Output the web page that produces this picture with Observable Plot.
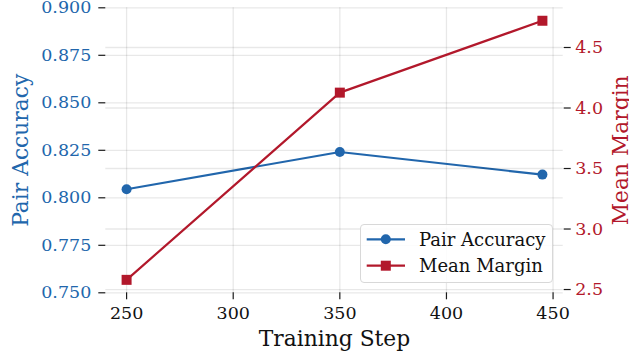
<!DOCTYPE html>
<html>
<head>
<meta charset="utf-8">
<script src="https://cdn.jsdelivr.net/npm/d3@7"></script>
<script src="https://cdn.jsdelivr.net/npm/@observablehq/plot@0.6"></script>
<style>
  body { margin: 0; background: #fff; }
  #chart { position: relative; width: 629px; height: 356px; font-family: "DejaVu Serif", serif; }
  #chart .layer { position: absolute; left: 0; top: 0; }
  #legend {
    position: absolute; left: 360px; top: 224px; width: 193px; height: 59px;
    box-sizing: border-box; border: 1px solid #d8d8d8; border-radius: 4px;
    background: rgba(255,255,255,0.85);
  }
</style>
</head>
<body>
<div id="chart">
  <div class="layer" id="back"></div>
  <div class="layer" id="front"></div>
  <div id="legend"></div>
</div>
<script>
// Evaluation checkpoints
const steps = [250, 350, 445];
const pairAccuracy = [0.8045, 0.8241, 0.8122];
const meanMargin = [2.58, 4.127, 4.721];

// Tick values
const stepTicks = [250, 300, 350, 400, 450];
const accuracyTicks = [0.75, 0.775, 0.8, 0.825, 0.85, 0.875, 0.9];
const marginTicks = [2.5, 3.0, 3.5, 4.0, 4.5];

const seriesNames = ["Pair Accuracy", "Mean Margin"];
const seriesColors = ["#2166ac", "#b2182b"];

const W = 629, H = 356;
const frame = {marginTop: 7.3, marginRight: 66.3, marginBottom: 63.7, marginLeft: 105.3};
const FONT = "DejaVu Serif";
const gridStroke = "#000", gridOpacity = 0.09;
const spine = "#1a1a1a";

// 5% padding on each side of the data extent
const pad = (lo, hi) => { const r = hi - lo; return [lo - 0.05 * r, hi + 0.05 * r]; };
const xDomain = pad(d3.min(steps), d3.max(steps));
const marginDomain = pad(d3.min(meanMargin), d3.max(meanMargin));

const accRows = steps.map((s, i) => ({step: s, value: pairAccuracy[i]}));
const marRows = steps.map((s, i) => ({step: s, value: meanMargin[i]}));

// Left axis layer: grid, x axis, accuracy axis and series
const back = Plot.plot({
  width: W, height: H, ...frame,
  style: {fontFamily: FONT, fontSize: "17px", background: "#fff", overflow: "visible"},
  x: {domain: xDomain},
  y: {domain: [0.75, 0.9]},
  marks: [
    Plot.gridX(stepTicks, {stroke: gridStroke, strokeOpacity: gridOpacity, strokeWidth: 1.3}),
    Plot.gridY(accuracyTicks, {stroke: gridStroke, strokeOpacity: gridOpacity, strokeWidth: 1.3}),
    Plot.axisX(stepTicks, {
      tickSize: 7, tickPadding: 6.5, stroke: spine, fill: "#111", fontSize: 17.5,
      tickFormat: d3.format("d"), line: true, strokeWidth: 1.2,
      label: "Training Step", labelAnchor: "center", labelOffset: 53.4, labelArrow: "none"
    }),
    Plot.axisY(accuracyTicks, {
      tickSize: 7, tickPadding: 7.5, stroke: spine, fill: seriesColors[0], fontSize: 17.5,
      tickFormat: d3.format(".3f"), line: true, strokeWidth: 1.2,
      label: seriesNames[0], labelAnchor: "center", labelOffset: 93.6, labelArrow: "none"
    }),
    Plot.line(accRows, {x: "step", y: "value", stroke: seriesColors[0], strokeWidth: 2.2}),
    Plot.dot(accRows, {x: "step", y: "value", fill: seriesColors[0], r: 5, symbol: "circle"})
  ]
});
back.querySelectorAll("g[aria-label='y-axis label'] text, g[aria-label='x-axis label'] text")
  .forEach(t => t.setAttribute("font-size", "21.8px"));
document.getElementById("back").appendChild(back);

// Right axis layer: mean margin scale, grid and series
const front = Plot.plot({
  width: W, height: H, ...frame,
  style: {fontFamily: FONT, fontSize: "17px", background: "transparent", overflow: "visible"},
  x: {domain: xDomain, axis: null},
  y: {domain: marginDomain},
  marks: [
    Plot.gridY(marginTicks, {stroke: gridStroke, strokeOpacity: gridOpacity, strokeWidth: 1.3}),
    Plot.axisY(marginTicks, {
      anchor: "right", tickSize: 7, tickPadding: 5, stroke: spine, fill: seriesColors[1], fontSize: 17.5,
      tickFormat: d3.format(".1f"), line: true, strokeWidth: 1.2,
      label: seriesNames[1], labelAnchor: "center", labelOffset: 64.6, labelArrow: "none"
    }),
    Plot.line(marRows, {x: "step", y: "value", stroke: seriesColors[1], strokeWidth: 2.2}),
    Plot.dot(marRows, {x: "step", y: "value", fill: seriesColors[1], r: 5.64, symbol: "square"})
  ]
});
front.querySelectorAll("g[aria-label='y-axis label'] text")
  .forEach(t => t.setAttribute("font-size", "21.8px"));
document.getElementById("front").appendChild(front);

// Legend
const legend = d3.select("#legend").append("svg")
  .attr("width", 191).attr("height", 57)
  .style("position", "absolute").style("left", "0").style("top", "0");
const rowsY = [14.3, 40.7];
seriesNames.forEach((name, i) => {
  const g = legend.append("g").attr("transform", `translate(0,${rowsY[i]})`);
  g.append("line").attr("x1", 5.7).attr("x2", 44).attr("stroke", seriesColors[i]).attr("stroke-width", 2.2);
  if (i === 0) g.append("circle").attr("cx", 24.8).attr("r", 5).attr("fill", seriesColors[i]);
  else g.append("rect").attr("x", 19.8).attr("y", -5).attr("width", 10).attr("height", 10).attr("fill", seriesColors[i]);
  g.append("text").attr("x", 58).attr("dy", "0.35em")
    .attr("font-family", FONT).attr("font-size", "18px").attr("fill", "#111").text(name);
});
</script>
</body>
</html>
